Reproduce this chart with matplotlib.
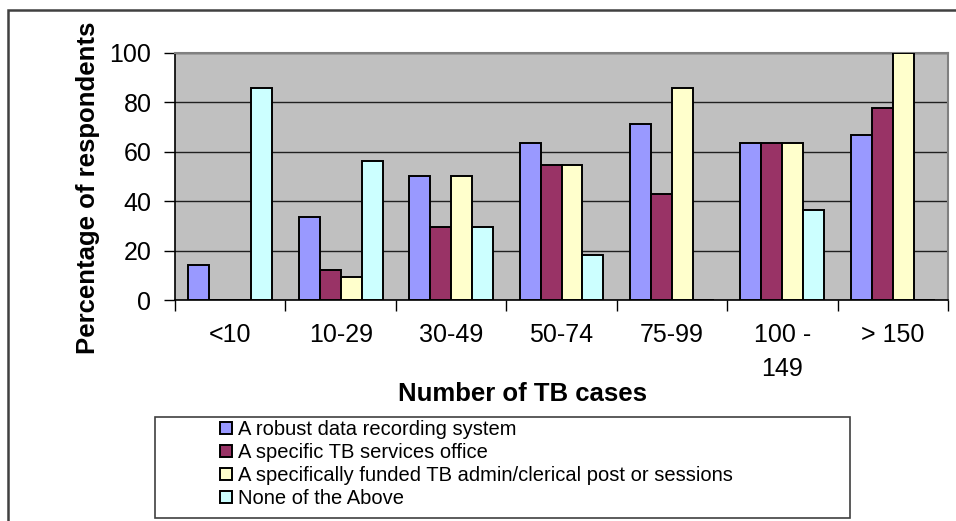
import numpy as np
import matplotlib
matplotlib.use("Agg")
import matplotlib.pyplot as plt
from matplotlib.patches import Rectangle

plt.rcParams['font.family'] = ['Liberation Sans', 'DejaVu Sans']

# Data
categories = ["<10", "10-29", "30-49", "50-74", "75-99", "100 -\n149", "> 150"]
seriesNames = ["A robust data recording system",
               "A specific TB services office",
               "A specifically funded TB admin/clerical post or sessions",
               "None of the Above"]
robustData = [14.3, 33.5, 50.0, 63.6, 71.4, 63.6, 66.7]
tbOffice = [0, 12.0, 29.6, 54.5, 42.9, 63.6, 77.8]
fundedPost = [0, 9.5, 50.0, 54.5, 85.7, 63.6, 100.0]
noneAbove = [85.7, 56.3, 29.6, 18.2, 0, 36.4, 0]
colors = ["#9999FF", "#993366", "#FFFFCC", "#CCFFFF"]

fig = plt.figure(figsize=(9.56, 5.21), dpi=100)
ax = fig.add_axes([175/956, 1 - 300/521, (948 - 175)/956, (300 - 53)/521])
ax.set_facecolor("#C0C0C0")

x = np.arange(len(categories))
width = 0.19
handles = []
for i, (values, color) in enumerate(zip([robustData, tbOffice, fundedPost, noneAbove], colors)):
    offset = (i - 1.5) * width
    bars = ax.bar(x + offset, values, width, color=color, edgecolor="black",
                  linewidth=1.4, zorder=3)
    handles.append(bars)

ax.set_xlim(-0.5, len(categories) - 0.5)
ax.set_ylim(0, 100)
ax.set_yticks(np.arange(0, 101, 20))
ax.yaxis.grid(True, color="#202020", linewidth=1.0, zorder=1)
ax.set_axisbelow(True)

# ticks at category boundaries, labels at centres
ax.set_xticks(np.arange(-0.5, len(categories), 1.0))
ax.set_xticklabels([])
ax.set_xticks(x, minor=True)
ax.set_xticklabels(categories, minor=True, fontsize=18, linespacing=1.55,
                   va="top")
ax.tick_params(axis="x", which="minor", length=0, pad=16.5)
ax.tick_params(axis="x", which="major", length=8, width=1, direction="out")
ax.tick_params(axis="y", length=8, width=1, direction="out", pad=9,
               labelsize=18)

for side in ["top", "right"]:
    ax.spines[side].set_color("#808080")
    ax.spines[side].set_linewidth(1.5)
ax.spines["left"].set_linewidth(1.2)
ax.spines["bottom"].set_linewidth(1.2)

ax.set_ylabel("Percentage of respondents", fontsize=18.5, fontweight="bold")
ax.yaxis.set_label_coords((100 - 175) / (948 - 175), (300 - 188) / (300 - 53))
ax.set_xlabel("Number of TB cases", fontsize=18.5, fontweight="bold")
ax.xaxis.label.set_va("center")
ax.xaxis.set_label_coords((523 - 175) / (948 - 175), -(394 - 300) / (300 - 53))

# outer chart frame
fig.add_artist(Rectangle((8/956, -0.1), 1.2, 1 - 10/521 + 0.1,
                         transform=fig.transFigure, fill=False,
                         edgecolor="#404040", linewidth=1.8))

# legend box
fig.add_artist(Rectangle((155/956, 1 - 518/521), (850 - 155)/956, (518 - 417)/521,
                         transform=fig.transFigure, fill=False,
                         edgecolor="#404040", linewidth=1.2))
fig.legend(handles, seriesNames, loc="upper left",
           bbox_to_anchor=(220 / 956, 1 - 420/521),
           frameon=False, fontsize=14.5, handlelength=0.6, handleheight=0.6,
           handletextpad=0.3, labelspacing=0.2, borderpad=0, borderaxespad=0)

fig.savefig("out.png", dpi=100)
